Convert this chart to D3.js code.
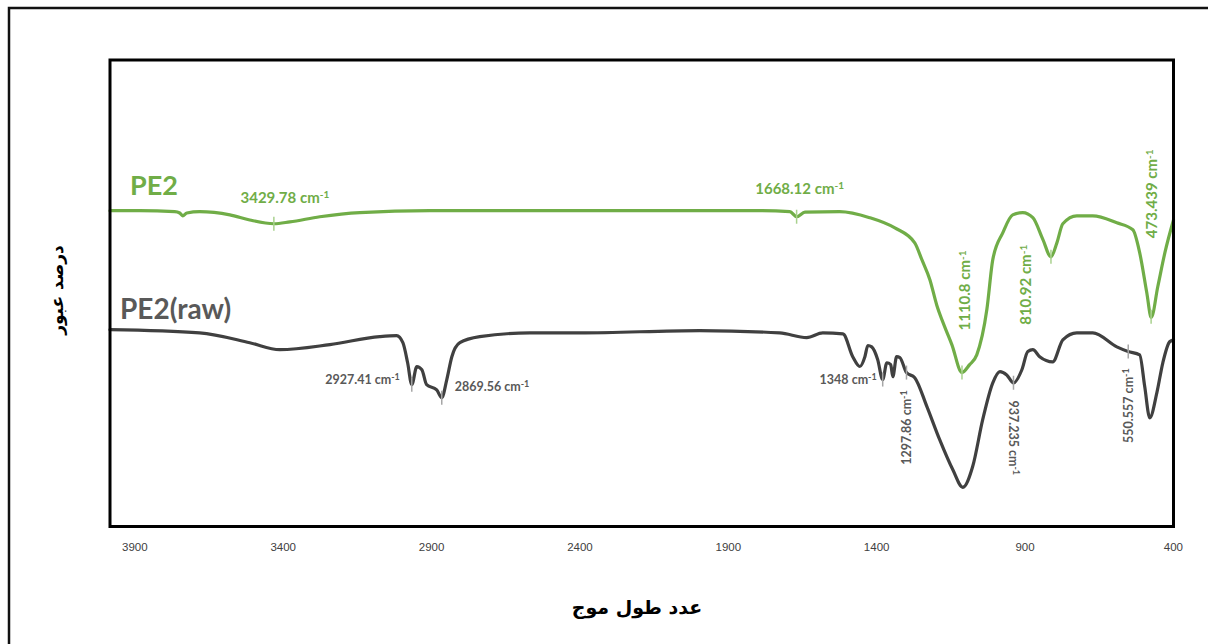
<!DOCTYPE html>
<html>
<head>
<meta charset="utf-8">
<script src="https://cdn.jsdelivr.net/npm/d3@7"></script>
<style>
  body { margin: 0; background: #fff; }
  .line { fill: none; stroke-width: 3.2; stroke-linejoin: round; stroke-linecap: round; }
  .tick text { font-family: "Liberation Sans Narrow", "Arial Narrow", sans-serif; font-size: 11.5px; fill: #404040; }
</style>
</head>
<body>
<svg width="1208" height="644"></svg>
<script>
// wavenumber (cm-1) and transmittance (%)
var pe2Wave = [3982, 3882, 3764, 3747, 3737, 3723, 3680, 3578, 3511, 3430, 3376, 3275, 3140, 2904, 2332, 1792, 1691,
  1668, 1640, 1523, 1422, 1337, 1270, 1246, 1219, 1196, 1169, 1145, 1111, 1085, 1061, 1027, 1007, 973, 940, 906,
  872, 838, 811, 791, 771, 724, 670, 589, 535, 512, 488, 473, 451, 427, 398];
var pe2Trans = [67.7, 67.7, 67.5, 67.2, 66.6, 67.2, 67.5, 66.8, 65.7, 64.9, 65.3, 66.4, 67.3, 67.7, 67.7, 67.7, 67.5,
  66.4, 67.4, 67.5, 66.2, 64.0, 60.8, 57.2, 52.9, 47.5, 42.8, 39.0, 33.0, 34.7, 36.8, 46.5, 57.2, 63.0, 66.8, 67.3,
  66.2, 61.5, 57.8, 60.8, 64.9, 66.6, 66.6, 65.1, 63.6, 58.7, 50.1, 44.8, 51.4, 58.7, 65.7];

var rawWave = [3982, 3680, 3511, 3410, 3241, 3073, 3016, 2995, 2979, 2965, 2948, 2931, 2915, 2881, 2864, 2847, 2830,
  2803, 2736, 2567, 2399, 1995, 1725, 1634, 1580, 1512, 1479, 1455, 1438, 1428, 1415, 1395, 1378, 1364, 1351, 1344,
  1331, 1320, 1298, 1270, 1229, 1186, 1142, 1108, 1075, 1041, 1007, 983, 960, 937, 909, 889, 872, 849, 805, 771,
  724, 670, 589, 551, 512, 495, 478, 454, 434, 411, 398];
var rawTrans = [42.2, 41.5, 39.4, 37.9, 39.0, 40.7, 40.9, 39.4, 35.1, 30.4, 34.3, 33.6, 30.4, 29.3, 27.6, 31.5, 36.4,
  39.4, 40.7, 41.5, 41.5, 42.0, 41.5, 40.5, 41.5, 41.3, 36.4, 34.3, 36.4, 38.8, 38.5, 35.8, 31.5, 35.1, 34.7, 32.1,
  36.4, 36.2, 33.0, 31.9, 25.7, 18.6, 12.2, 8.4, 12.8, 22.9, 30.8, 33.2, 32.5, 30.8, 33.6, 37.5, 37.9, 36.4, 35.3, 40.0,
  41.5, 41.5, 38.5, 37.5, 36.8, 30.0, 23.3, 28.7, 35.1, 39.6, 40.0];

var xTicks = [3900, 3400, 2900, 2400, 1900, 1400, 900, 400];

// peak labels: which series, text, wavenumber where the mark sits
var peakSeries = ["pe2", "pe2", "pe2", "pe2", "pe2", "raw", "raw", "raw", "raw", "raw", "raw"];
var peakLabels = ["3429.78", "1668.12", "1110.8", "810.92", "473.439", "2927.41", "2869.56", "1348", "1297.86", "937.235", "550.557"];
var peakAt = [3429.78, 1668.12, 1110.8, 810.92, 473.439, 2965, 2864, 1378, 1297.86, 937.235, 550.557];

var svg = d3.select("svg");
var plot = {left: 110, right: 1173.5, top: 60, bottom: 526.5};

var x = d3.scaleLinear().domain([3982, 398]).range([plot.left, plot.right]),
    y = d3.scaleLinear().domain([0, 100]).range([plot.bottom, plot.top]);

// outer frame (runs off the right and bottom of the picture)
svg.append("rect")
    .attr("x", 9).attr("y", 8).attr("width", 1230).attr("height", 680)
    .attr("fill", "none").attr("stroke", "#111").attr("stroke-width", 2.5);

var series = {
  pe2: { color: "#70ad47", mark: "#a9d18e", text: "#70ad47",
    values: pe2Wave.map(function(w, i) { return {w: w, t: pe2Trans[i]}; }) },
  raw: { color: "#404040", mark: "#a6a6a6", text: "#595959",
    values: rawWave.map(function(w, i) { return {w: w, t: rawTrans[i]}; }) }
};

var line = d3.line()
    .curve(d3.curveMonotoneX)
    .x(function(d) { return x(d.w); })
    .y(function(d) { return y(d.t); });

["pe2", "raw"].forEach(function(k) {
  svg.append("path")
      .attr("class", "line")
      .attr("stroke", series[k].color)
      .attr("d", line(series[k].values));
});

// plot frame
svg.append("rect")
    .attr("x", plot.left).attr("y", plot.top)
    .attr("width", plot.right - plot.left).attr("height", plot.bottom - plot.top)
    .attr("fill", "none").attr("stroke", "#000").attr("stroke-width", 3);

// x axis labels only
var axis = svg.append("g")
    .attr("transform", "translate(0," + (plot.bottom + 10) + ")")
    .call(d3.axisBottom(x).tickValues(xTicks).tickSize(0).tickPadding(6).tickFormat(d3.format("d")));
axis.select(".domain").remove();

function valueAt(vals, w) {
  // values are sorted by decreasing wavenumber
  for (var i = 0; i < vals.length - 1; i++) {
    var a = vals[i], b = vals[i + 1];
    if (w <= a.w && w >= b.w) {
      var f = (a.w - w) / (a.w - b.w);
      return a.t + f * (b.t - a.t);
    }
  }
  return vals[vals.length - 1].t;
}

// label placement relative to the mark: dx, dy, rotation, anchor
var placement = [
  {dx: 11, dy: -26, rot: 0, anchor: "middle"},
  {dx: 3, dy: -28, rot: 0, anchor: "middle"},
  {dx: 3, dy: -82, rot: -90, anchor: "middle"},
  {dx: -25, dy: 28, rot: -90, anchor: "middle"},
  {dx: 1, dy: -123, rot: -90, anchor: "middle"},
  {dx: -12, dy: -5, rot: 0, anchor: "end"},
  {dx: 13, dy: -11, rot: 0, anchor: "start"},
  {dx: -6, dy: 0, rot: 0, anchor: "end"},
  {dx: 0, dy: 55, rot: -90, anchor: "middle"},
  {dx: 0, dy: 55, rot: 90, anchor: "middle"},
  {dx: 0, dy: 54, rot: -90, anchor: "middle"}
];

peakLabels.forEach(function(lab, i) {
  var s = series[peakSeries[i]];
  var px = x(peakAt[i]), py = y(valueAt(s.values, peakAt[i]));
  svg.append("line")
      .attr("x1", px).attr("x2", px).attr("y1", py - 7).attr("y2", py + 7)
      .attr("stroke", s.mark).attr("stroke-width", 1.5);

  var p = placement[i];
  var green = peakSeries[i] == "pe2";
  var t = svg.append("text")
      .attr("transform", "translate(" + (px + p.dx) + "," + (py + p.dy) + ") rotate(" + p.rot + ")")
      .attr("text-anchor", p.anchor)
      .attr("dy", "0.35em")
      .style("font-family", "Lato, 'Open Sans', sans-serif")
      .style("font-weight", "bold")
      .style("font-size", green ? "15px" : "12.5px")
      .attr("fill", s.text);
  t.append("tspan").text(lab + " cm");
  t.append("tspan").attr("dy", "-0.45em").style("font-size", green ? "10px" : "9px").text("-1");
});

// series names
svg.append("text")
    .attr("x", 130).attr("y", 195)
    .style("font-family", "Lato, 'Open Sans', sans-serif").style("font-weight", "bold").style("font-size", "27px")
    .attr("fill", "#70ad47")
    .text("PE2");
svg.append("text")
    .attr("x", 120).attr("y", 319)
    .style("font-family", "Lato, 'Open Sans', sans-serif").style("font-weight", "bold").style("font-size", "28px")
    .attr("fill", "#595959")
    .text("PE2(raw)");

// axis titles
svg.append("text")
    .attr("x", 637).attr("y", 614)
    .attr("text-anchor", "middle")
    .attr("direction", "rtl")
    .style("font-family", "'DejaVu Sans', sans-serif").style("font-weight", "bold").style("font-size", "19px")
    .attr("fill", "#000")
    .text("عدد طول موج");
svg.append("text")
    .attr("transform", "translate(57,290) rotate(-90)")
    .attr("text-anchor", "middle")
    .attr("dy", "0.35em")
    .attr("direction", "rtl")
    .style("font-family", "'DejaVu Sans', sans-serif").style("font-weight", "bold").style("font-size", "17px")
    .attr("fill", "#000")
    .text("درصد عبور");
</script>
</body>
</html>
